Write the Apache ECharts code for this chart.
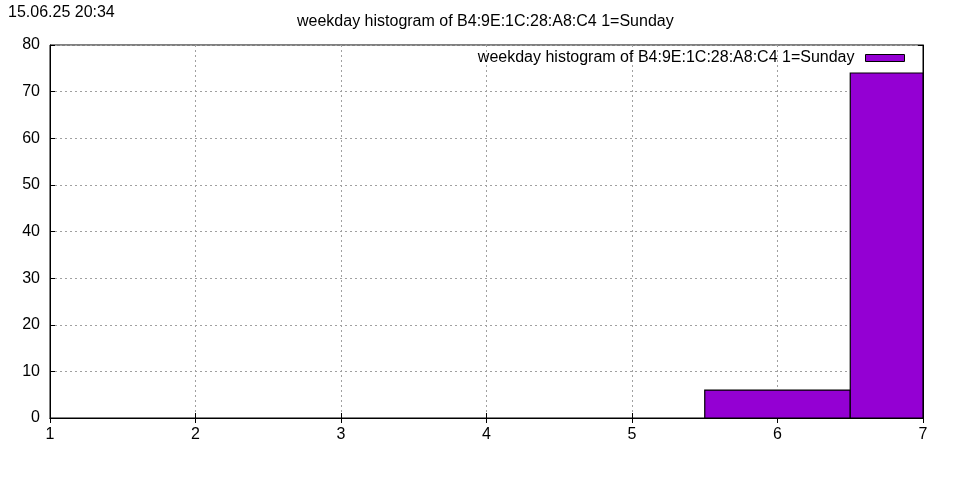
<!DOCTYPE html>
<html><head><meta charset="utf-8">
<script src="https://cdn.jsdelivr.net/npm/echarts@6/dist/echarts.min.js"></script>
<style>html,body{margin:0;padding:0;background:#fff}#c{width:960px;height:480px}</style>
</head><body><div id="c"></div>
<script>
const titleText = 'weekday histogram of B4:9E:1C:28:A8:C4 1=Sunday';
const timestamp = '15.06.25 20:34';
const weekdays = [1, 2, 3, 4, 5, 6, 7];
const counts = [0, 0, 0, 0, 0, 6, 74];
const xTicks = [1, 2, 3, 4, 5, 6, 7];
const yTicks = [0, 10, 20, 30, 40, 50, 60, 70, 80];

const font = 'Liberation Sans, Arial, sans-serif';
const chart = echarts.init(document.getElementById('c'), null, {renderer: 'canvas'});
const data = weekdays.map((d, i) => [d, counts[i]]);
const gridLine = {show: true, lineStyle: {color: '#a0a0a0', type: [2, 3], width: 1}};
const axisCommon = {
  axisLine: {show: true, lineStyle: {color: '#000', width: 1}},
  axisTick: {show: true, inside: true, length: 5, lineStyle: {color: '#000'}},
};
chart.setOption({
  animation: false,
  title: [
    {text: titleText, left: 297, top: 14, padding: 0, textStyle: {fontFamily: font, fontSize: 16, fontWeight: 'normal', color: '#000'}},
    {text: timestamp, left: 8, top: 5, padding: 0, textStyle: {fontFamily: font, fontSize: 16, fontWeight: 'normal', color: '#000'}}
  ],
  legend: {
    right: 55, top: 50, padding: 0, align: 'right', itemWidth: 39, itemHeight: 7, itemGap: 10,
    textStyle: {fontFamily: font, fontSize: 16, color: '#000', padding: [0, 6, 0, 0]},
    data: [{name: titleText, icon: 'rect', itemStyle: {color: '#9400d3', borderColor: '#000', borderWidth: 1}}]
  },
  grid: {left: 50, right: 37, top: 45, bottom: 62, show: true, borderColor: '#000', borderWidth: 1, backgroundColor: 'transparent'},
  xAxis: [
    Object.assign({type: 'value', min: xTicks[0], max: xTicks[xTicks.length-1], interval: 1, position: 'bottom',
      splitLine: gridLine,
      axisLabel: {color: '#000', fontFamily: font, fontSize: 16, margin: 9}}, axisCommon),
    Object.assign({type: 'value', min: xTicks[0], max: xTicks[xTicks.length-1], interval: 1, position: 'top',
      splitLine: {show: false}, axisLabel: {show: false}}, axisCommon)
  ],
  yAxis: [
    Object.assign({type: 'value', min: yTicks[0], max: yTicks[yTicks.length-1], interval: 10, position: 'left',
      splitLine: gridLine,
      axisLabel: {color: '#000', fontFamily: font, fontSize: 16, margin: 10}}, axisCommon),
    Object.assign({type: 'value', min: yTicks[0], max: yTicks[yTicks.length-1], interval: 10, position: 'right',
      splitLine: {show: false}, axisLabel: {show: false}}, axisCommon)
  ],
  series: [{
    name: titleText,
    type: 'custom',
    clip: true,
    itemStyle: {color: '#9400d3'},
    renderItem: function (params, api) {
      const x = api.value(0), y = api.value(1);
      if (y <= 0) return;
      const p0 = api.coord([x - 0.5, y]);
      const p1 = api.coord([x + 0.5, 0]);
      const rect = echarts.graphic.clipRectByRect(
        {x: p0[0], y: p0[1], width: p1[0] - p0[0], height: p1[1] - p0[1]},
        {x: params.coordSys.x, y: params.coordSys.y, width: params.coordSys.width, height: params.coordSys.height});
      if (!rect) return;
      return {type: 'rect', shape: rect, style: {fill: '#9400d3', stroke: '#000', lineWidth: 1.2}};
    },
    encode: {x: 0, y: 1},
    data: data
  }]
});
</script></body></html>
